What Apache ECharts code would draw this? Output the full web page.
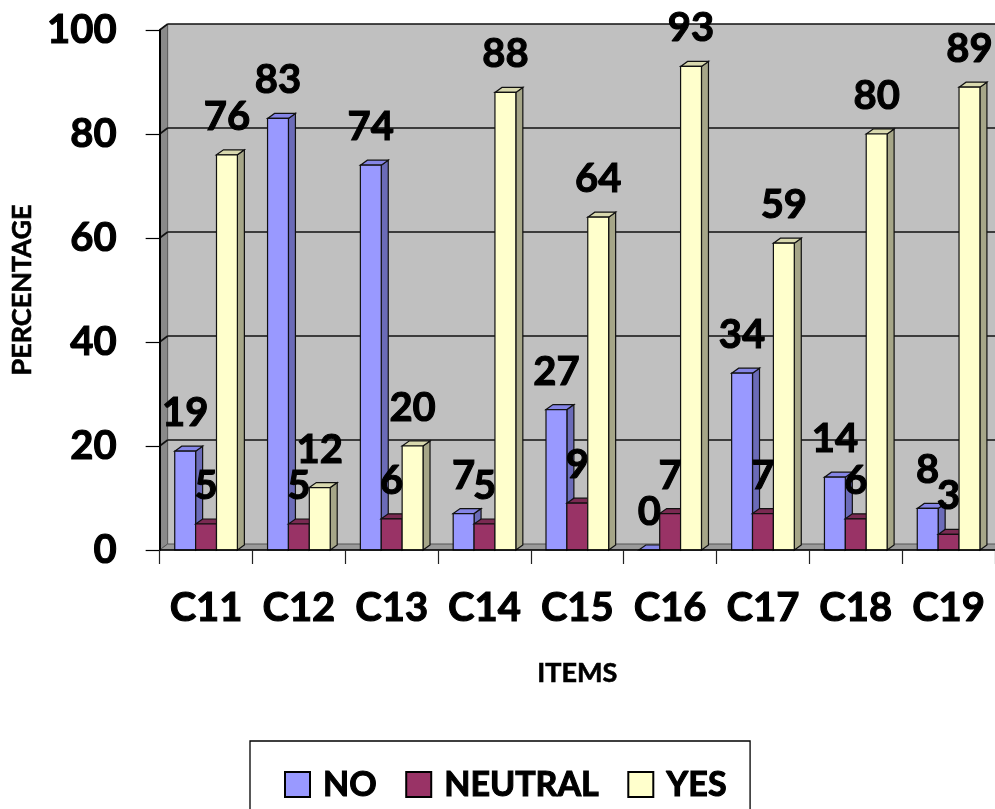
<!DOCTYPE html>
<html>
<head>
<meta charset="utf-8">
<script src="https://cdn.jsdelivr.net/npm/echarts@6/dist/echarts.min.js"></script>
<style>html,body{margin:0;padding:0;background:#fff;}#chart{width:995px;height:809px;}</style>
</head>
<body>
<div id="chart"></div>
<script>
const categories = ['C11','C12','C13','C14','C15','C16','C17','C18','C19'];
const noValues      = [19, 83, 74, 7, 27, 0, 34, 14, 8];
const neutralValues = [5, 5, 6, 5, 9, 7, 7, 6, 3];
const yesValues     = [76, 12, 20, 88, 64, 93, 59, 80, 89];
const yTicks = [0, 20, 40, 60, 80, 100];

const FONT = 'Lato';
const WEIGHT = 'bold';
const DX = 7, DY = -5;     // bar depth
const WX = 8, WY = -6;     // wall depth
const heavy = {textBorderColor: '#000', textBorderWidth: 1.1};

const palettes = [
  {front:'#9999FF', side:'#6B6BB8', top:'#8585E6'},
  {front:'#993366', side:'#6E2449', top:'#7A2A52'},
  {front:'#FFFFCC', side:'#A6A688', top:'#D9D9AE'}
];

function barSeries(name, values, si) {
  const pal = palettes[si];
  return {
    type: 'custom', name: name, z: 2,
    itemStyle: {color: pal.front},
    data: values.map((v, i) => [i, v]),
    renderItem: function (params, api) {
      const ci = api.value(0), v = api.value(1);
      const top = api.coord([ci, v]);
      const base = api.coord([ci, 0]);
      const bw = api.size([1, 0])[0];
      const w = bw * 0.225;
      const x0 = top[0] - 1.5 * w + si * w;
      const x1 = x0 + w;
      const yt = top[1], yb = base[1];
      const stroke = {stroke: '#111', lineWidth: 1.2};
      return {
        type: 'group',
        children: [
          {type: 'polygon', shape: {points: [[x1, yt], [x1 + DX, yt + DY], [x1 + DX, yb + DY], [x1, yb]]},
           style: Object.assign({fill: pal.side}, stroke)},
          {type: 'polygon', shape: {points: [[x0, yt], [x0 + DX, yt + DY], [x1 + DX, yt + DY], [x1, yt]]},
           style: Object.assign({fill: pal.top}, stroke)},
          {type: 'rect', shape: {x: x0, y: yt, width: w, height: yb - yt},
           style: Object.assign({fill: pal.front}, stroke)},
          {type: 'text', z2: 100, style: {text: String(v), x: (x0 + x1) / 2, y: yt - 38,
            align: 'center', verticalAlign: 'middle', fill: '#000',
            stroke: '#000', lineWidth: 1.1,
            font: WEIGHT + ' 40px ' + FONT}}
        ]
      };
    }
  };
}

const frameSeries = {
  type: 'custom', name: 'frame', z: 1, silent: true,
  data: [[0, 0]],
  renderItem: function (params, api) {
    const bw = api.size([1, 0])[0];
    const left = api.coord([0, 0])[0] - bw / 2;
    const right = api.coord([categories.length - 1, 0])[0] + bw / 2;
    const y0 = api.coord([0, yTicks[0]])[1];
    const yMax = api.coord([0, yTicks[yTicks.length - 1]])[1];
    const children = [
      {type: 'rect', shape: {x: left + WX, y: yMax + WY, width: right - left + 20, height: y0 - yMax},
       style: {fill: '#C0C0C0'}},
      {type: 'polygon', shape: {points: [[left, yMax], [left + WX, yMax + WY], [left + WX, y0 + WY], [left, y0]]},
       style: {fill: '#8A8A8A', stroke: '#555', lineWidth: 1}},
      {type: 'polygon', shape: {points: [[left, y0], [left + WX, y0 + WY], [right + WX + 20, y0 + WY], [right + 20, y0]]},
       style: {fill: '#9A9A9A', stroke: '#555', lineWidth: 1}}
    ];
    yTicks.forEach(function (t) {
      if (t === yTicks[0]) return;
      const y = api.coord([0, t])[1];
      children.push({type: 'line', shape: {x1: left + WX, y1: y + WY, x2: right + WX + 20, y2: y + WY},
        style: {stroke: '#111', lineWidth: 1.6}});
      children.push({type: 'line', shape: {x1: left, y1: y, x2: left + WX, y2: y + WY},
        style: {stroke: '#111', lineWidth: 1.6}});
    });
    return {type: 'group', children: children};
  }
};

const chart = echarts.init(document.getElementById('chart'));
chart.setOption({
  animation: false,
  backgroundColor: '#fff',
  grid: {left: 157, right: -3, top: 30, bottom: 259, containLabel: false},
  legend: {
    data: ['NO', 'NEUTRAL', 'YES'],
    left: 250, top: 741,
    padding: [26, 23, 30, 34],
    borderColor: '#000', borderWidth: 1.3,
    backgroundColor: '#fff',
    icon: 'rect', itemWidth: 25, itemHeight: 25, itemGap: 28,
    itemStyle: {borderColor: '#000', borderWidth: 2},
    textStyle: Object.assign({fontFamily: FONT, fontWeight: WEIGHT, fontSize: 34, color: '#000', padding: [0, 0, 0, 8]}, heavy)
  },
  xAxis: {
    type: 'category', data: categories, z: 5,
    boundaryGap: true,
    name: 'ITEMS', nameLocation: 'middle', nameGap: 110,
    nameTextStyle: Object.assign({fontFamily: FONT, fontWeight: WEIGHT, fontSize: 27, color: '#000'}, {textBorderColor: '#000', textBorderWidth: 0.6}),
    axisLine: {show: true, lineStyle: {color: '#000', width: 1.5}},
    axisTick: {show: true, length: 14, alignWithLabel: false, lineStyle: {color: '#222', width: 1.2}},
    axisLabel: Object.assign({fontFamily: FONT, fontWeight: WEIGHT, fontSize: 40, color: '#000', margin: 38, interval: 0}, heavy),
    splitLine: {show: false}
  },
  yAxis: {
    type: 'value', min: 0, max: 100, interval: 20, z: 5,
    name: 'PERCENTAGE', nameLocation: 'middle', nameGap: 122, nameRotate: 90,
    nameTextStyle: Object.assign({fontFamily: FONT, fontWeight: WEIGHT, fontSize: 27, color: '#000'}, {textBorderColor: '#000', textBorderWidth: 0.6}),
    axisLine: {show: true, lineStyle: {color: '#000', width: 2}},
    axisTick: {show: true, length: 14, lineStyle: {color: '#000', width: 1.2}},
    axisLabel: Object.assign({fontFamily: FONT, fontWeight: WEIGHT, fontSize: 40, color: '#000', margin: 43}, heavy),
    splitLine: {show: false}
  },
  series: [
    frameSeries,
    barSeries('NO', noValues, 0),
    barSeries('NEUTRAL', neutralValues, 1),
    barSeries('YES', yesValues, 2)
  ]
});
</script>
</body>
</html>
